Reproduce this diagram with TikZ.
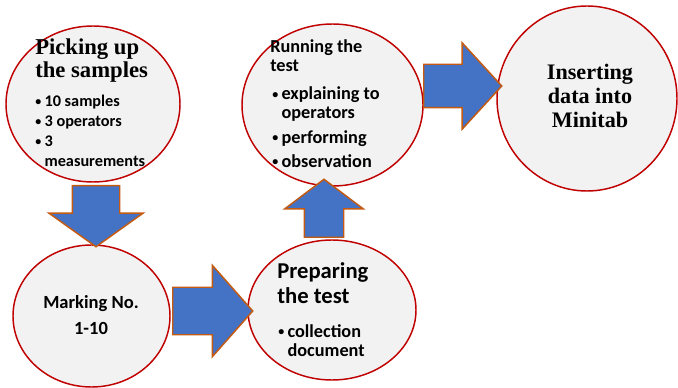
\documentclass[tikz,border=0pt]{standalone}
\usepackage{fontspec}
\setmainfont{Carlito}
\newfontfamily\timesfont{Liberation Serif}
\usetikzlibrary{shapes.geometric,shapes.arrows}
\definecolor{stagefill}{HTML}{F2F2F2}
\definecolor{stageline}{HTML}{C00000}
\definecolor{flowfill}{HTML}{4472C4}
\definecolor{flowline}{HTML}{C55A11}
\newcommand\dotmark{\raisebox{0.2ex}{\fontsize{9}{9}\selectfont\textbullet}}
\tikzset{
  stage/.style={ellipse, draw=stageline, fill=stagefill, line width=1.1pt, inner sep=0pt},
  flow/.style={single arrow, draw=flowline, fill=flowfill, line width=1.1pt, inner sep=0pt,
    text depth=0pt, anchor=tail},
  txt/.style={inner sep=0pt, anchor=base west, font=\bfseries},
}

\begin{document}
\begin{tikzpicture}[x=0.75pt,y=-0.75pt]
  \useasboundingbox (0,0) rectangle (678,388);
  \node[stage, minimum width=130.5pt, minimum height=117pt] (pick) at (93,104) {};
  \node[stage, minimum width=135.75pt, minimum height=121.5pt] (run) at (332.5,105) {};
  \node[stage, minimum width=135pt, minimum height=138.75pt] (insert) at (587,98.5) {};
  \node[stage, minimum width=117.75pt, minimum height=106.5pt] (mark) at (91.5,316) {};
  \node[stage, minimum width=126pt, minimum height=105pt] (prep) at (332,310) {};

  \node[flow, rotate=-90, minimum height=45.75pt, text height=34.5pt,
    single arrow head extend=17.6pt, single arrow tip angle=109] (pick2mark) at (96,185) {};
  \node[flow, minimum height=60pt, text height=34.5pt,
    single arrow head extend=16.5pt, single arrow tip angle=97] (mark2prep) at (172,311) {};
  \node[flow, rotate=90, minimum height=43.5pt, text height=28.5pt,
    single arrow head extend=14.6pt, single arrow tip angle=106] (prep2run) at (324,238) {};
  \node[flow, minimum height=58.5pt, text height=31.5pt,
    single arrow head extend=16.1pt, single arrow tip angle=95] (run2insert) at (423,86) {};

  \node[txt] (pickhead) at (35,55) {\timesfont\fontsize{17}{17.25}\selectfont
    \begin{tabular}[t]{@{}l@{}}Picking up\\the samples\end{tabular}};
  \node[txt] (picklist) at (35,107) {\fontsize{12.2}{15}\selectfont
    \begin{tabular}[t]{@{}l@{\hspace{2.5pt}}l@{}}\dotmark&10 samples\\ \dotmark&3 operators\\ \dotmark&3\\ &measurements\end{tabular}};
  \node[txt] (runhead) at (270,53) {\fontsize{13.7}{14.25}\selectfont
    \begin{tabular}[t]{@{}l@{}}Running the\\test\end{tabular}};
  \node[txt] (runlist) at (272,100) {\fontsize{13.7}{14.25}\selectfont
    \begin{tabular}[t]{@{}l@{\hspace{2.5pt}}l@{}}\dotmark&explaining to\\ &operators\\[4pt] \dotmark&performing\\[4pt] \dotmark&observation\end{tabular}};
  \node[txt] (prephead) at (277,278) {\fontsize{17}{18.75}\selectfont
    \begin{tabular}[t]{@{}l@{}}Preparing\\the test\end{tabular}};
  \node[txt] (preplist) at (278,337) {\fontsize{13.7}{14.25}\selectfont
    \begin{tabular}[t]{@{}l@{\hspace{2.5pt}}l@{}}\dotmark&collection\\ &document\end{tabular}};
  \node[txt, anchor=base] (marktxt) at (91,308) {\fontsize{13.9}{20.25}\selectfont
    \begin{tabular}[t]{@{}c@{}}Marking No.\\1-10\end{tabular}};
  \node[txt, anchor=base] (inserttxt) at (590,80) {\timesfont\fontsize{16.6}{18}\selectfont
    \begin{tabular}[t]{@{}c@{}}Inserting\\data into\\Minitab\end{tabular}};
\end{tikzpicture}
\end{document}
